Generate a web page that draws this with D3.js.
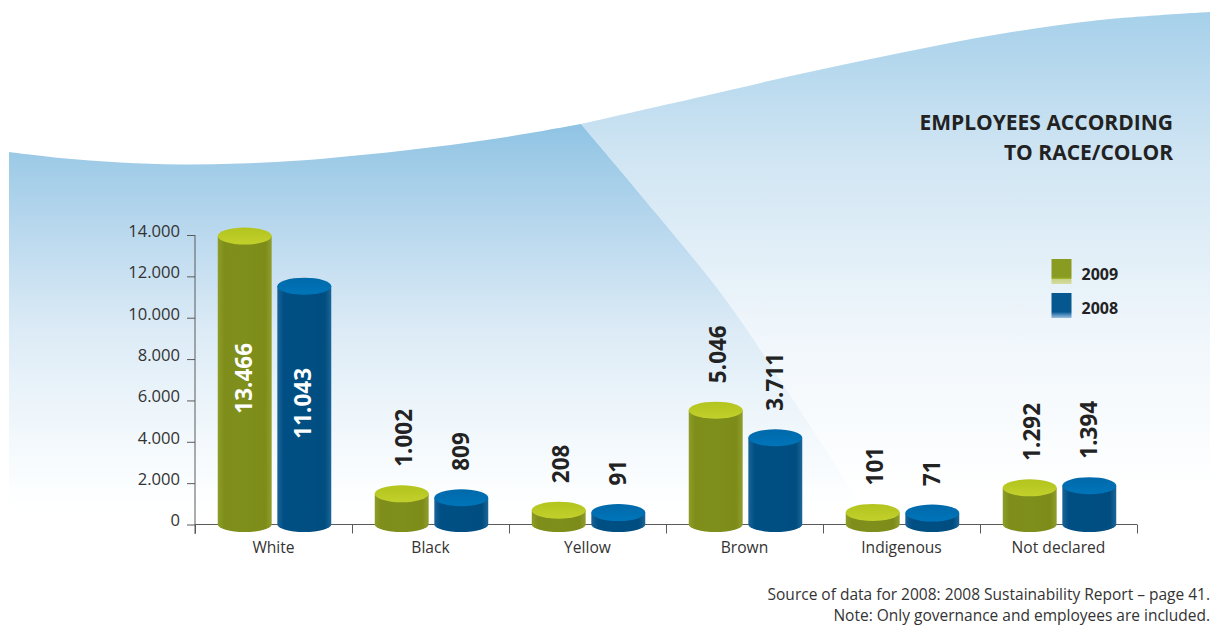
<!DOCTYPE html>
<html>
<head>
<meta charset="utf-8">
<script src="https://cdn.jsdelivr.net/npm/d3@7/dist/d3.min.js"></script>
<style>
  html, body { margin: 0; padding: 0; background: #fff; }
  svg { display: block; font-family: "Open Sans", sans-serif; }
</style>
</head>
<body>
<svg id="chart" width="1210" height="625"></svg>
<script>
// Employee headcount per race/color group
const categories = ["White", "Black", "Yellow", "Brown", "Indigenous", "Not declared"];
const years = ["2009", "2008"];
const values2009 = [13466, 1002, 208, 5046, 101, 1292];
const values2008 = [11043, 809, 91, 3711, 71, 1394];
const yTicks = [0, 2000, 4000, 6000, 8000, 10000, 12000, 14000];
const titleLines = ["EMPLOYEES ACCORDING", "TO RACE/COLOR"];
const footnotes = [
  "Source of data for 2008: 2008 Sustainability Report \u2013 page 41.",
  "Note: Only governance and employees are included."
];

// Outline of the decorative wave behind the plot
const waveLeft = [[9,152],[60,158],[120,162.5],[180,164.5],[240,163.5],[300,160.5],[400,151],[500,138],[581,124]];
const waveRight = [[581,124],[700,97],[800,74],[900,53],[1000,34],[1100,20],[1210,12]];
const foldEdge = [[581,124],[655,212],[726,300],[790,395],[855,495]];

const svg = d3.select("#chart");
const defs = svg.append("defs");

// Dot as thousands separator
const fmt = d3.formatLocale({ decimal: ",", thousands: ".", grouping: [3], currency: ["", ""] }).format(",d");

function linearGradient(id, stops, horizontal) {
  const g = defs.append("linearGradient").attr("id", id)
    .attr("x1", 0).attr("y1", 0)
    .attr("x2", horizontal ? 1 : 0).attr("y2", horizontal ? 0 : 1);
  stops.forEach(([o, c]) => g.append("stop").attr("offset", o).attr("stop-color", c));
}

function userGradient(id, y1, y2, stops) {
  const g = defs.append("linearGradient").attr("id", id)
    .attr("gradientUnits", "userSpaceOnUse")
    .attr("x1", 0).attr("x2", 0).attr("y1", y1).attr("y2", y2);
  stops.forEach(([o, c]) => g.append("stop").attr("offset", o).attr("stop-color", c));
}

userGradient("bgLeft", 124, 528, [[0, "#8fc3e4"], [0.1, "#a0cce7"], [0.26, "#b9d8ee"], [0.51, "#dcebf6"], [0.68, "#ebf4fa"], [0.91, "#fcfeff"], [0.96, "#ffffff"]]);
userGradient("bgRight", 12, 490, [[0, "#a6d0ea"], [0.3, "#d0e5f3"], [0.66, "#eff6fb"], [1, "#ffffff"]]);

linearGradient("body2009", [[0, "#8e9d28"], [0.12, "#7f8e1a"], [0.5, "#7f8f1c"], [0.88, "#7d8c19"], [1, "#8f9d2c"]], true);
linearGradient("body2008", [[0, "#1a6397"], [0.12, "#004f84"], [0.5, "#004f83"], [0.88, "#004d80"], [1, "#1c6598"]], true);
linearGradient("cap2009", [[0, "#b3c41e"], [1, "#c2d02c"]], false);
linearGradient("cap2008", [[0, "#0069aa"], [1, "#0075ba"]], false);
linearGradient("key2009", [[0, "#8a9b22"], [0.72, "#8a9b22"], [0.8, "#a9b92a"], [0.82, "#c8d38a"], [1, "#d4dca0"]], false);
linearGradient("key2008", [[0, "#05588f"], [0.76, "#05588f"], [0.84, "#3a7fb5"], [1, "#9dbfdc"]], false);

// Background wave, in two folds
const curve = d3.line().curve(d3.curveCatmullRom.alpha(0.5));
const bottomY = 530;
const foldEnd = foldEdge[foldEdge.length - 1];
const leftPath = curve(waveLeft) + curve(foldEdge).replace(/^M/, "L") +
  "L" + foldEnd[0] + "," + bottomY + "L9," + bottomY + "Z";
const rightPath = curve(waveRight) + "L1210," + bottomY + "L" + foldEnd[0] + "," + bottomY +
  curve(foldEdge.slice().reverse()).replace(/^M/, "L") + "Z";
svg.append("path").attr("d", rightPath).attr("fill", "url(#bgRight)");
svg.append("path").attr("d", leftPath).attr("fill", "url(#bgLeft)");

// Scales
const x = d3.scaleBand().domain(categories).range([195, 1137]);
const xYear = d3.scaleBand().domain(years)
  .range([(x.bandwidth() - 113.5) / 2 + 1, (x.bandwidth() + 113.5) / 2 + 1])
  .paddingInner(0.095);
const y = d3.scaleLinear().domain([0, 14000]).range([524.5, 235]);

// Axes
const axisColor = "#5a5a5a";
const yAxis = d3.axisLeft(y).tickValues(yTicks).tickFormat(fmt).tickSize(8).tickPadding(7);
const gy = svg.append("g").attr("transform", "translate(195,0)").call(yAxis);
gy.select(".domain").attr("stroke", axisColor).attr("d", "M0,235V534");
gy.selectAll(".tick line").attr("stroke", axisColor);
gy.selectAll(".tick text").attr("fill", "#333").attr("font-size", 16.6).attr("font-family", '"Open Sans", sans-serif').attr("dy", "0.08em");

const xAxis = d3.axisBottom(d3.scaleLinear().domain([0, categories.length]).range([195, 1137]))
  .ticks(categories.length).tickFormat("").tickSize(9);
const gx = svg.append("g").attr("transform", "translate(0,524.5)").call(xAxis);
gx.select(".domain").attr("stroke", axisColor).attr("d", "M195,0H1137");
gx.selectAll(".tick line").attr("stroke", axisColor);

svg.append("g").selectAll("text").data(categories).join("text")
  .attr("x", d => x(d) + x.bandwidth() / 2)
  .attr("y", 553)
  .attr("text-anchor", "middle")
  .attr("font-size", 15.6)
  .attr("fill", "#333")
  .text(d => d);

// Cylinders
const rows = [];
categories.forEach((c, i) => {
  rows.push({ c, year: "2009", v: values2009[i] });
  rows.push({ c, year: "2008", v: values2008[i] });
});
const ryCap = 8.5;
const capLift = 10; // top of the 3D cap sits slightly above the value line
const insideMin = 8000; // tall bars carry the label inside

const bars = svg.append("g").selectAll("g").data(rows).join("g")
  .attr("transform", d => `translate(${x(d.c) + xYear(d.year)},0)`);
const w = xYear.bandwidth();
const baseY = y(0);

bars.append("path")
  .attr("fill", d => `url(#body${d.year})`)
  .attr("d", d => {
    const top = y(d.v) - capLift;
    return `M0,${top}L0,${baseY}A${w / 2},7.5 0 0 0 ${w},${baseY}L${w},${top}Z`;
  });
bars.append("ellipse")
  .attr("cx", w / 2)
  .attr("cy", d => y(d.v) - capLift)
  .attr("rx", w / 2)
  .attr("ry", ryCap)
  .attr("fill", d => `url(#cap${d.year})`);

// Value labels, rotated along the bars
bars.append("text")
  .attr("transform", d => {
    const top = y(d.v) - capLift;
    const inside = d.v > insideMin;
    const ly = inside ? (top + baseY) / 2 - 2 : top - 27;
    const lx = w / 2 + (!inside && d.year === "2009" ? 2 : 0) - (inside ? 1 : 0);
    return `translate(${lx},${ly}) rotate(-90)`;
  })
  .attr("text-anchor", d => d.v > insideMin ? "middle" : "start")
  .attr("dy", "0.36em")
  .attr("font-size", 22.5)
  .attr("font-weight", 700)
  .attr("fill", d => d.v > insideMin ? "#ffffff" : "#222")
  .text(d => fmt(d.v));

// Legend
const legend = svg.append("g").selectAll("g").data(years).join("g")
  .attr("transform", (d, i) => `translate(1051.5,${259 + i * 34})`);
legend.append("rect").attr("width", 20).attr("height", 25).attr("fill", d => `url(#key${d})`);
legend.append("text").attr("x", 30).attr("y", 21)
  .attr("font-size", 16).attr("font-weight", 700).attr("fill", "#222").text(d => d);

// Title
svg.append("g").selectAll("text").data(titleLines).join("text")
  .attr("x", 1173).attr("y", (d, i) => 130 + i * 30)
  .attr("text-anchor", "end")
  .attr("font-size", 21).attr("font-weight", 700).attr("fill", "#222")
  .text(d => d);

// Footnotes
svg.append("g").selectAll("text").data(footnotes).join("text")
  .attr("x", 1210).attr("y", (d, i) => 600 + i * 21)
  .attr("text-anchor", "end")
  .attr("font-size", 15.5).attr("fill", "#333")
  .text(d => d);
</script>
</body>
</html>
